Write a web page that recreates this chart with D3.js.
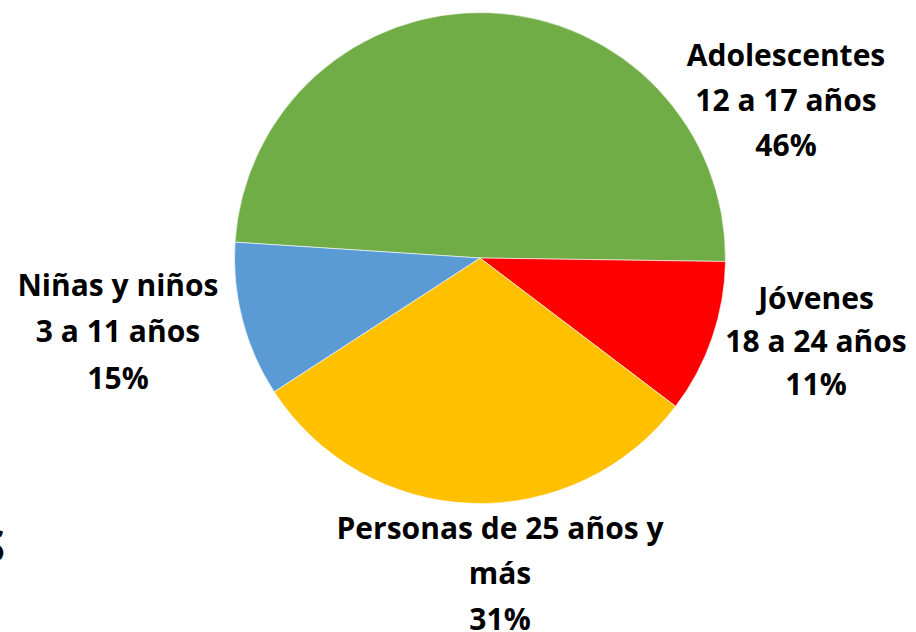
<!DOCTYPE html>
<html>
<head>
<meta charset="utf-8">
<script src="https://cdn.jsdelivr.net/npm/d3@7"></script>
<style>
  body { margin: 0; background: #fff; }
  text { font-family: "Open Sans", Lato, sans-serif; font-weight: bold; fill: #000; }
</style>
</head>
<body>
<script>
// chart size
var W = 916;
var H = 632;

// slice shares as drawn in the picture (the printed labels are rounded differently)
var groups = ["Adolescentes", "Jóvenes", "Personas de 25 años y más", "Niñas y niños"];
var shares = [49.2, 10.1, 30.5, 10.2];
var colors = ["#70AD47", "#FF0000", "#FFC000", "#5B9BD5"];

// label texts, one line per entry
var labelLines = [
  ["Adolescentes", "12 a 17 años", "46%"],
  ["Jóvenes", "18 a 24 años", "11%"],
  ["Personas de 25 años y", "más", "31%"],
  ["Niñas y niños", "3 a 11 años", "15%"]
];

function main() {
  var svg = d3.select("body").append("svg")
    .attr("width", W)
    .attr("height", H);

  var cx = 480, cy = 258, R = 245.5;

  var pie = d3.pie()
    .sort(null)
    .startAngle(-86.3 * Math.PI / 180)
    .endAngle(-86.3 * Math.PI / 180 + 2 * Math.PI)
    .value(function(d) { return d; });

  var arc = d3.arc().innerRadius(0).outerRadius(R);

  var g = svg.append("g").attr("transform", "translate(" + cx + "," + cy + ")");
  g.selectAll("path")
    .data(pie(shares))
    .enter()
    .append("path")
    .attr("d", arc)
    .attr("fill", function(d, i) { return colors[i]; })
    .attr("stroke", "#fff")
    .attr("stroke-width", 0.6);

  // label positions (centre x, first line centre y)
  var labelPos = [[786, 55], [816, 298], [500, 528], [118, 285]];
  var lineGap = [45, 43, 45.5, 46.5];

  labelLines.forEach(function(lines, i) {
    var t = svg.append("text")
      .attr("text-anchor", "middle")
      .attr("font-size", 30);
    lines.forEach(function(s, j) {
      t.append("tspan")
        .attr("x", labelPos[i][0])
        .attr("y", labelPos[i][1] + j * lineGap[i])
        .attr("dy", "0.36em")
        .text(s);
    });
  });

  // clipped letter at the left edge of the picture
  svg.append("text")
    .attr("x", 5)
    .attr("y", 562)
    .attr("text-anchor", "end")
    .attr("font-size", 44)
    .text("S");
}

main();
</script>
</body>
</html>
